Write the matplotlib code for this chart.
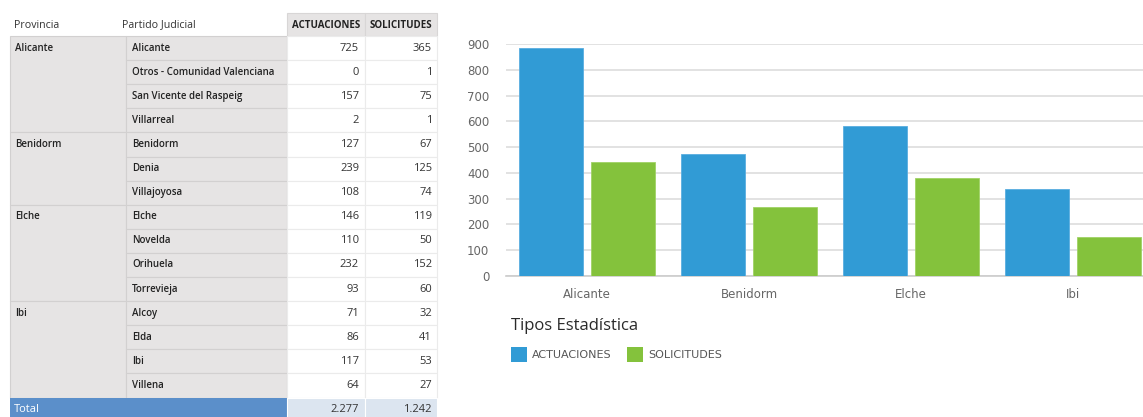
import numpy as np
import matplotlib.pyplot as plt
from matplotlib.patches import Rectangle

# table data
provincias = ["Alicante", "Benidorm", "Elche", "Ibi"]
partidos = [
    ["Alicante", "Otros - Comunidad Valenciana", "San Vicente del Raspeig", "Villarreal"],
    ["Benidorm", "Denia", "Villajoyosa"],
    ["Elche", "Novelda", "Orihuela", "Torrevieja"],
    ["Alcoy", "Elda", "Ibi", "Villena"],
]
actuaciones = [[725, 0, 157, 2], [127, 239, 108], [146, 110, 232, 93], [71, 86, 117, 64]]
solicitudes = [[365, 1, 75, 1], [67, 125, 74], [119, 50, 152, 60], [32, 41, 53, 27]]
series = ["ACTUACIONES", "SOLICITUDES"]

# chart values = sums per provincia
act_tot = [sum(v) for v in actuaciones]
sol_tot = [sum(v) for v in solicitudes]

blue = "#319bd5"
green = "#84c23c"
cell_gray = "#e6e4e4"
line_gray = "#d2d0d0"
tfont = "Open Sans"


def miles(n):
    return f"{n:,}".replace(",", ".")


W, H = 1143, 417
fig = plt.figure(figsize=(W / 100, H / 100), dpi=100)

# ---- table (drawn in pixel coordinates)
tab = fig.add_axes([0, 0, 1, 1])
tab.set_xlim(0, W)
tab.set_ylim(H, 0)
tab.axis("off")

x0, x1, x2, x3, x4 = 10, 126, 287, 365, 437
y_head, y_top, rh = 13, 36, 24.1

tab.text(14, 25, "Provincia", fontsize=7.7, family=tfont, color="#333333", va="center")
tab.text(122, 25, "Partido Judicial", fontsize=7.7, family=tfont, color="#333333", va="center")
for xa, xb, name in [(x2, x3, series[0]), (x3, x4, series[1])]:
    tab.add_patch(Rectangle((xa, y_head), xb - xa, y_top - y_head, fc=cell_gray, ec="#d8d6d6", lw=0.8))
    tab.text((xa + xb) / 2, 25, name, fontsize=7, family=tfont, fontweight="bold",
             color="#222222", ha="center", va="center")

row = 0
for g, prov in enumerate(provincias):
    n = len(partidos[g])
    ys = y_top + row * rh
    tab.add_patch(Rectangle((x0, ys), x1 - x0, n * rh, fc=cell_gray, ec=line_gray, lw=0.8))
    tab.text(15, ys + rh / 2, prov, fontsize=7, family=tfont, fontweight="semibold",
             color="#222222", va="center")
    for i in range(n):
        y = y_top + row * rh
        tab.add_patch(Rectangle((x1, y), x2 - x1, rh, fc=cell_gray, ec=line_gray, lw=0.8))
        tab.add_patch(Rectangle((x2, y), x3 - x2, rh, fc="white", ec="#ebebeb", lw=0.8))
        tab.add_patch(Rectangle((x3, y), x4 - x3, rh, fc="white", ec="#ebebeb", lw=0.8))
        tab.text(x1 + 6, y + rh / 2, partidos[g][i], fontsize=7, family=tfont,
                 fontweight="semibold", color="#222222", va="center")
        tab.text(x3 - 6, y + rh / 2, str(actuaciones[g][i]), fontsize=8, family=tfont,
                 color="#333333", ha="right", va="center")
        tab.text(x4 - 5, y + rh / 2, str(solicitudes[g][i]), fontsize=8, family=tfont,
                 color="#333333", ha="right", va="center")
        row += 1

yt = y_top + row * rh
tab.add_patch(Rectangle((x0, yt), x2 - x0, 30, fc="#5b8fca", ec="none"))
tab.add_patch(Rectangle((x2, yt), x3 - x2, 30, fc="#dce5f0", ec="white", lw=0.8))
tab.add_patch(Rectangle((x3, yt), x4 - x3, 30, fc="#dce5f0", ec="white", lw=0.8))
tab.text(14, yt + 12, "Total", fontsize=8, family=tfont, color="white", va="center")
tab.text(x3 - 6, yt + 12, miles(sum(act_tot)), fontsize=8, family=tfont,
         color="#333333", ha="right", va="center")
tab.text(x4 - 5, yt + 12, miles(sum(sol_tot)), fontsize=8, family=tfont,
         color="#333333", ha="right", va="center")

# ---- bar chart
ax = fig.add_axes([506 / W, (H - 276) / H, 648 / W, 232 / H])
x = np.arange(len(provincias))
ax.bar(x - 0.224, act_tot, width=0.395, color=blue, edgecolor="#5aaee0", linewidth=0.6, zorder=3)
ax.bar(x + 0.224, sol_tot, width=0.395, color=green, edgecolor="#a0d266", linewidth=0.6, zorder=3)
ax.set_xlim(-0.5, 3.5)
ax.set_ylim(0, 900)
ax.set_yticks(np.arange(0, 901, 100))
ax.set_xticks(x)
ax.set_xticklabels(provincias)
ax.grid(axis="y", color="#dddddd", linewidth=1.2, zorder=0)
for s in ["top", "right", "left"]:
    ax.spines[s].set_visible(False)
ax.spines["bottom"].set_color("#cccccc")
ax.spines["bottom"].set_linewidth(1.2)
ax.tick_params(length=0, labelsize=8.5, labelcolor="#666666")
ax.tick_params(axis="y", pad=12)
ax.tick_params(axis="x", pad=9)

# legend
fig.text(511 / W, 1 - 326 / H, "Tipos Estadística", fontsize=12, family=tfont,
         color="#2a2a2a", va="center")
for xs, name, c in [(511, series[0], blue), (627, series[1], green)]:
    tab.add_patch(Rectangle((xs, 347), 16, 15, fc=c, ec="none", clip_on=False))
    tab.text(xs + 21, 355, name, fontsize=8, color="#555555", va="center")

fig.savefig("out.png", dpi=100)
